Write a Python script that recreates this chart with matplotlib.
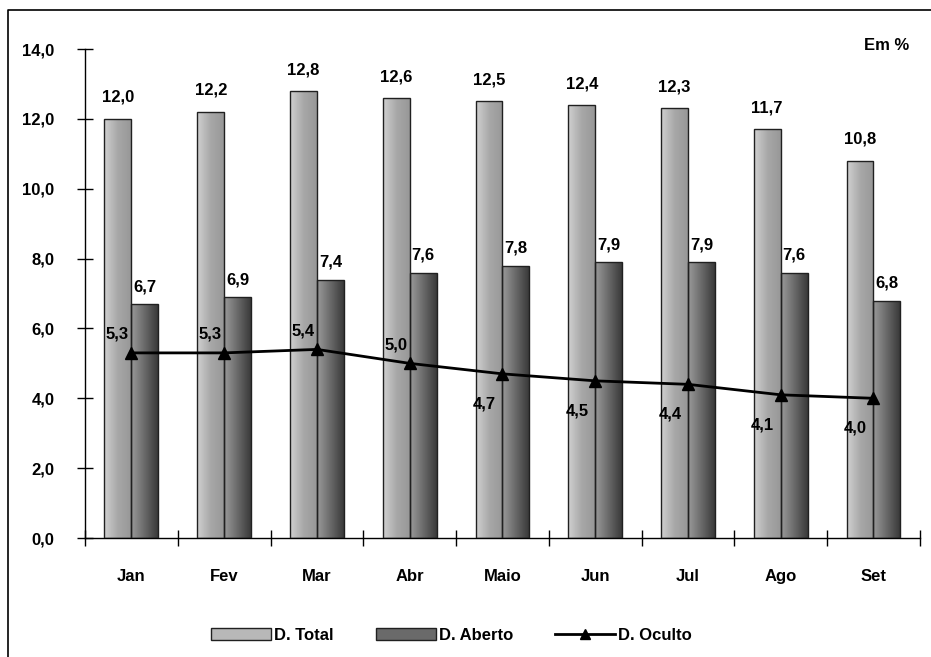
import numpy as np
import matplotlib
matplotlib.use("Agg")
import matplotlib.pyplot as plt
from matplotlib.patches import Patch
from matplotlib.lines import Line2D
from matplotlib.colors import LinearSegmentedColormap

plt.rcParams['font.family'] = ['Liberation Sans Narrow', 'Liberation Sans', 'DejaVu Sans']
plt.rcParams['font.weight'] = 'bold'

meses = ["Jan", "Fev", "Mar", "Abr", "Maio", "Jun", "Jul", "Ago", "Set"]
d_total = [12.0, 12.2, 12.8, 12.6, 12.5, 12.4, 12.3, 11.7, 10.8]
d_aberto = [6.7, 6.9, 7.4, 7.6, 7.8, 7.9, 7.9, 7.6, 6.8]
d_oculto = [5.3, 5.3, 5.4, 5.0, 4.7, 4.5, 4.4, 4.1, 4.0]

def fmt(v):
    return ("%.1f" % v).replace(".", ",")

cm_total = LinearSegmentedColormap.from_list("t", ["#d0d0d0", "#a8a8a8", "#989898"])
cm_aberto = LinearSegmentedColormap.from_list("a", ["#9a9a9a", "#6a6a6a", "#3a3a3a"])

fig = plt.figure(figsize=(9.31, 6.57), dpi=100)
ax = fig.add_axes([0.0913, 0.1811, 0.8967, 0.7443])

x = np.arange(len(meses))
w = 0.29

def grad_bars(xs, hs, cmap):
    bars = ax.bar(xs, hs, w, facecolor="none", edgecolor="#202020", linewidth=1.0, zorder=3)
    grad = np.linspace(0, 1, 64).reshape(1, -1)
    for b in bars:
        x0, y0 = b.get_x(), b.get_y()
        im = ax.imshow(grad, cmap=cmap, aspect="auto", zorder=2,
                       extent=[x0, x0 + b.get_width(), y0, y0 + b.get_height()])
        im.set_clip_path(b)
    return bars

grad_bars(x - w / 2, d_total, cm_total)
grad_bars(x + w / 2, d_aberto, cm_aberto)

ax.plot(x, d_oculto, color="black", lw=2, marker="^", markersize=8, zorder=5)

for i in range(len(meses)):
    ax.annotate(fmt(d_total[i]), (x[i] - w / 2, d_total[i]), xytext=(0, 10),
                textcoords="offset points", ha="center", va="bottom", fontsize=12)
    ax.annotate(fmt(d_aberto[i]), (x[i] + w / 2, d_aberto[i]), xytext=(0, 7),
                textcoords="offset points", ha="center", va="bottom", fontsize=12)
    if i < 4:
        ax.annotate(fmt(d_oculto[i]), (x[i], d_oculto[i]), xytext=(-10, 8),
                    textcoords="offset points", ha="center", va="bottom", fontsize=12)
    else:
        ax.annotate(fmt(d_oculto[i]), (x[i], d_oculto[i]), xytext=(-13, -16),
                    textcoords="offset points", ha="center", va="top", fontsize=12)

ax.set_xlim(-0.5, len(meses) - 0.5)
ax.set_ylim(0, 14)
ax.set_yticks(np.arange(0, 14.1, 2))
ax.set_yticklabels([fmt(v) for v in np.arange(0, 14.1, 2)], fontsize=12)
ax.set_xticks(np.arange(-0.5, len(meses), 1))
ax.set_xticklabels([])
ax.set_xticks(x, minor=True)
ax.set_xticklabels(meses, minor=True, fontsize=12)
ax.tick_params(axis="x", which="minor", length=0, pad=22)
ax.tick_params(axis="x", which="major", direction="inout", length=12, width=1)
ax.tick_params(axis="y", direction="inout", length=12, width=1, pad=16)
for s in ["top", "right"]:
    ax.spines[s].set_visible(False)
for s in ["left", "bottom"]:
    ax.spines[s].set_linewidth(1)

fig.text(0.977, 0.93, "Em %", ha="right", va="center", fontsize=12)

handles = [Patch(facecolor="#b8b8b8", edgecolor="#202020", label="D. Total"),
           Patch(facecolor="#6a6a6a", edgecolor="#202020", label="D. Aberto"),
           Line2D([0], [0], color="black", lw=2, marker="^", markersize=7, label="D. Oculto")]
fig.legend(handles=handles, loc="center", bbox_to_anchor=(0.485, 0.033), ncol=3,
           frameon=False, fontsize=12, handlelength=3.6, handletextpad=0.2, columnspacing=2.5)

fig.add_artist(Line2D([0.0086, 0.0086, 1.0], [0.0, 0.985, 0.985], color="black", lw=1.2,
                      transform=fig.transFigure))

fig.savefig("out.png", dpi=100)
